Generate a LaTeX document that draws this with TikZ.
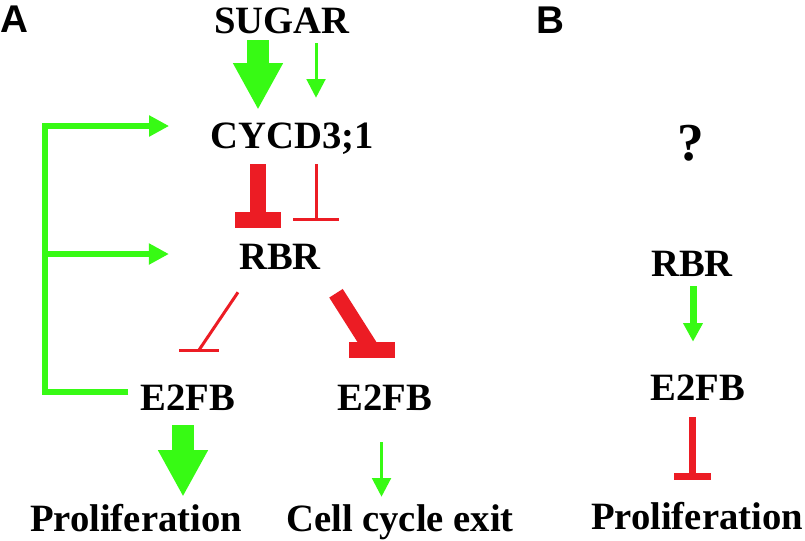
\documentclass[tikz,border=0pt]{standalone}
\usepackage{fontspec}
\setmainfont{Liberation Serif}
\newfontfamily\panelfont{Liberation Sans}
\usepackage{tikz}
\usetikzlibrary{arrows.meta}
\definecolor{actgreen}{RGB}{55,250,20}
\definecolor{inhred}{RGB}{236,28,36}

\begin{document}
\begin{tikzpicture}[x=0.75pt,y=-0.75pt,
  gene/.style={anchor=base,inner sep=0pt,text height=19.5pt,text depth=0pt,
    font=\fontsize{29}{30}\selectfont\bfseries},
  panel/.style={anchor=base west,inner sep=0pt,
    font=\fontsize{29}{30}\selectfont\panelfont\bfseries},
  act big/.style={actgreen,line width=16pt,-{Triangle[length=35pt,width=35pt]}},
  act mid/.style={actgreen,line width=5.25pt,-{Triangle[length=14pt,width=14pt]}},
  act thin/.style={actgreen,line width=2.25pt,-{Triangle[length=14pt,width=14pt]}},
  fb/.style={actgreen,line width=4.5pt,line join=miter,-{Triangle[length=15pt,width=15pt]}},
  inh big/.style={inhred,line width=12pt,-{Rectangle[length=12pt,width=34.5pt]}},
  inh mid/.style={inhred,line width=5.25pt,-{Rectangle[length=5.25pt,width=27.75pt]}},
  inh thin/.style={inhred,line width=2.25pt,-{Rectangle[length=2.25pt,width=34.5pt]}},
  bar/.style={fill=inhred,inner sep=0pt,minimum height=#1},
]
\useasboundingbox (0,0) rectangle (805,540);

% panel A
\node[panel] (A) at (0,32) {A};
\node[gene] (sugar) at (282,33) {SUGAR};
\node[gene] (cycd) at (292,148) {CYCD3;1};
\node[gene] (rbrA) at (280,269) {RBR};
\node[gene] (e2fbL) at (188,410) {E2FB};
\node[gene] (e2fbR) at (385,410) {E2FB};
\node[gene] (prolA) at (136,531) {Proliferation};
\node[gene] (exit) at (400,531) {Cell cycle exit};

\draw[act big] ([shift={(-24,7)}]sugar.south) -- ([shift={(-34,-12)}]cycd.north);
\draw[act thin] ([shift={(34,10)}]sugar.south) -- ([shift={(24,-24)}]cycd.north);
\draw[inh big] ([shift={(-34,16)}]cycd.south) -- ([shift={(-22,-15)}]rbrA.north);
\draw[inh thin] ([shift={(24,16)}]cycd.south) -- ([shift={(36,-22)}]rbrA.north);

% diagonal ones, flat bars
\node[bar=2.25pt,minimum width=30pt] (barL) at (199,350) {};
\node[bar=12pt,minimum width=35pt] (barR) at (372,350) {};
\draw[inhred,line width=2.25pt] ([shift={(-42,23)}]rbrA.south) -- (barL.center);
\draw[inhred,line width=12pt] ([shift={(56,24)}]rbrA.south) -- (barR.center);

% feedback from E2FB
\coordinate (fb low) at (45,392);
\coordinate (fb mid) at (45,254);
\draw[fb] ([shift={(-12,-5)}]e2fbL.west) -- (fb low) |- ([shift={(-41,-9)}]cycd.west);
\draw[fb] (fb mid) -- ([shift={(-70,-2)}]rbrA.west);

\draw[act big] ([shift={(-5,15)}]e2fbL.south) -- ([shift={(47,-8)}]prolA.north);
\draw[act thin] ([shift={(-3.5,32)}]e2fbR.south) -- ([shift={(-18.5,-8)}]exit.north);

% panel B
\node[panel] (B) at (536,33) {B};
\node[gene,font=\fontsize{40}{42}\selectfont\bfseries] (q) at (691,160) {?};
\node[gene] (rbrB) at (692,276) {RBR};
\node[gene] (e2fbB) at (698,400) {E2FB};
\node[gene] (prolB) at (697,529) {Proliferation};

\draw[act mid] ([shift={(1,10)}]rbrB.south) -- ([shift={(-5,-32)}]e2fbB.north);
\draw[inh mid] ([shift={(-6,17)}]e2fbB.south) -- ([shift={(-5,-23)}]prolB.north);
\end{tikzpicture}
\end{document}
